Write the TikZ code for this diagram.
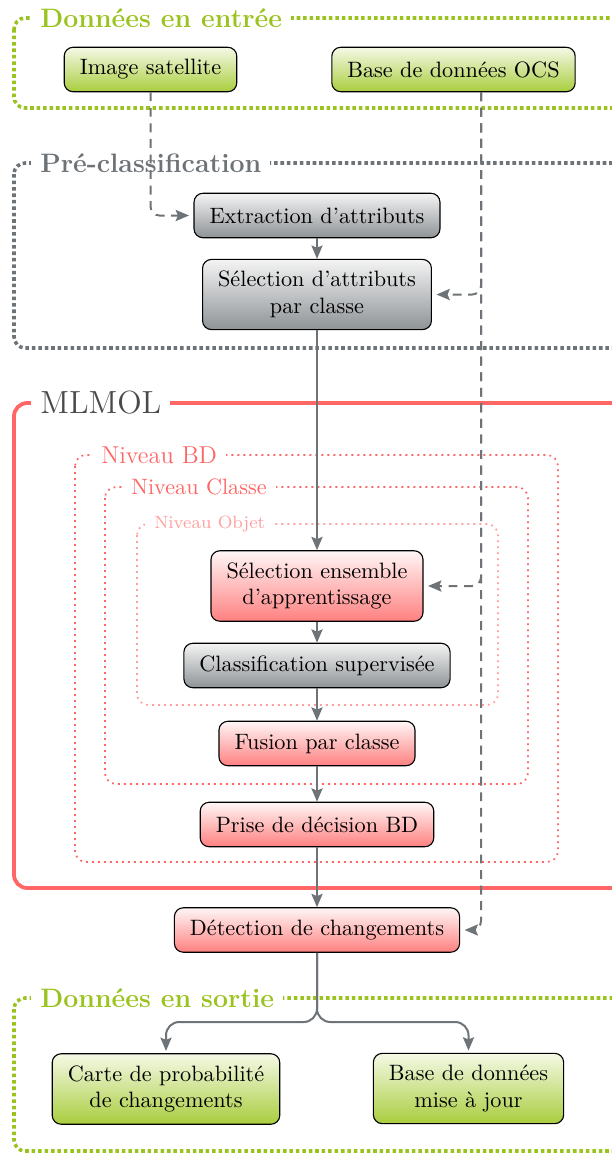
\documentclass[tikz,border=0pt]{standalone}
\usetikzlibrary{arrows.meta,calc}
\definecolor{cgreen}{HTML}{9BC31F}
\definecolor{cgray}{HTML}{6D7377}
\definecolor{cred}{HTML}{FF6666}
\definecolor{cpink}{HTML}{FFA0A0}
\definecolor{cdark}{HTML}{4A4A4A}
\definecolor{gtop}{HTML}{F5F9E6}
\definecolor{gbot}{HTML}{A9CD3E}
\definecolor{ktop}{HTML}{F4F4F4}
\definecolor{kbot}{HTML}{8E9396}
\definecolor{rtop}{HTML}{FFF6F6}
\definecolor{rbot}{HTML}{FF8080}
\begin{document}
\begin{tikzpicture}[x=0.45pt,y=-0.45pt,
 box/.style={draw=black, line width=0.5pt, rounded corners=4pt, align=center, inner xsep=7pt, inner ysep=5.3pt, minimum height=20pt, font=\normalsize},
 gbox/.style={box, top color=gtop, bottom color=gbot},
 kbox/.style={box, top color=ktop, bottom color=kbot},
 rbox/.style={box, top color=rtop, bottom color=rbot},
 conn/.style={draw=cgray, line width=0.9pt, -{Stealth[length=6pt,width=5pt,inset=1pt]}},
 dconn/.style={conn, dash pattern=on 4pt off 3pt, rounded corners=4pt, shorten >=2pt},
 bigframe/.style={line width=1.6pt, dash pattern=on 1.6pt off 1.3pt, rounded corners=5pt},
 smallframe/.style={line width=0.8pt, dash pattern=on 0.8pt off 1.9pt, rounded corners=5pt},
 redframe/.style={line width=1.7pt, draw=cred, rounded corners=6pt},
 title/.style={fill=white, inner xsep=4pt, inner ysep=1pt, anchor=west},
]
\useasboundingbox (0,0) rectangle (612,1153);
\clip (0,0) rectangle (612,1153);

% frames
\draw[bigframe, draw=cgreen] (14,18) rectangle (660,108);
\draw[bigframe, draw=cgray] (14,163) rectangle (660,348);
\draw[redframe] (14,403) rectangle (660,888);
\draw[smallframe, draw=cred] (75,455) rectangle (558,862);
\draw[smallframe, draw=cred] (105,487) rectangle (528,784);
\draw[smallframe, draw=cpink] (137,524) rectangle (498,705);
\draw[bigframe, draw=cgreen] (14,998) rectangle (660,1151);

% frame titles
\node[title, text=cgreen, font=\large\bfseries] (tin) at (31,18) {Données en entrée};
\node[title, text=cgray, font=\large\bfseries] (tpre) at (31,163) {Pré-classification};
\node[title, text=cdark, font=\Large] (tml) at (31,403) {MLMOL};
\node[title, text=cred, font=\fontsize{11}{13}\selectfont] (tbd) at (92,455) {Niveau BD};
\node[title, text=cred, font=\normalsize] (tcl) at (122,487) {Niveau Classe};
\node[title, text=cpink, font=\footnotesize] (tob) at (145,524) {Niveau Objet};
\node[title, text=cgreen, font=\large\bfseries] (tout) at (31,998) {Données en sortie};

% boxes
\node[gbox] (img) at (150.5,69.5) {Image satellite};
\node[gbox] (ocs) at (453.5,69.5) {Base de données OCS};
\node[kbox] (ext) at (317,215.5) {Extraction d'attributs};
\node[kbox] (sel) at (317,294.5) {Sélection d'attributs\\par classe};
\node[rbox] (selens) at (317,586) {Sélection ensemble\\d'apprentissage};
\node[kbox] (classif) at (317,665.5) {Classification supervisée};
\node[rbox] (fusion) at (317,743.5) {Fusion par classe};
\node[rbox] (prise) at (317,824.5) {Prise de décision BD};
\node[rbox] (det) at (317,930) {Détection de changements};
\node[gbox] (carte) at (166,1089) {Carte de probabilité\\de changements};
\node[gbox] (bdmaj) at (468.5,1088.5) {Base de données\\mise à jour};

% connectors
\coordinate (ocsout) at ($(ocs.south)+(27.5,0)$);
\coordinate (split) at (317,1022);
\draw[dconn] (img.south) |- (ext.west);
\draw[dconn] (ocsout) |- (sel.east);
\draw[dconn] (ocsout) |- (selens.east);
\draw[dconn] (ocsout) |- (det.east);
\draw[conn] (ext.south) -- (sel.north);
\draw[conn] (sel.south) -- (selens.north);
\draw[conn] (selens.south) -- (classif.north);
\draw[conn] (classif.south) -- (fusion.north);
\draw[conn] (fusion.south) -- (prise.north);
\draw[conn] (prise.south) -- (det.north);
\draw[conn, rounded corners=6pt, shorten >=1pt] (det.south) -- (split) -| (carte.north);
\draw[conn, rounded corners=6pt, shorten >=1pt] (det.south) -- (split) -| (bdmaj.north);
\end{tikzpicture}
\end{document}
